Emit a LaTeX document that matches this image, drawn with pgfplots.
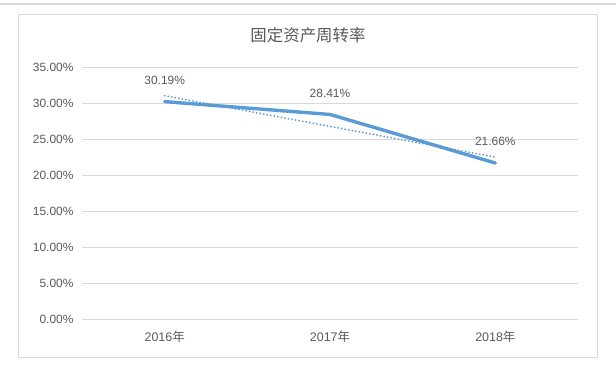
\documentclass[border=0pt]{standalone}
\usepackage{pgfplots}
\pgfplotsset{compat=1.18}
\usepackage{fontspec}
\setmainfont{Liberation Sans}
\newfontfamily\cjk{Noto Sans CJK SC}
\definecolor{linec}{HTML}{5B9BD5}
\definecolor{gridc}{HTML}{D9D9D9}
\definecolor{txtc}{HTML}{595959}
\begin{document}
\begin{tikzpicture}
\begin{axis}[
  name=ax,
  scale only axis, width=496bp, height=252bp,
  xmin=-0.5, xmax=2.5, ymin=0, ymax=35,
  axis line style={draw=none},
  tick style={draw=none},
  ymajorgrids, grid style={gridc, line width=0.8bp},
  ytick={0,5,10,15,20,25,30,35},
  yticklabel={\pgfmathprintnumber[fixed,fixed zerofill,precision=2]{\tick}\%},
  xtick={0,1,2},
  xticklabels={2016{\cjk 年},2017{\cjk 年},2018{\cjk 年}},
  /pgf/number format/assume math mode=true,
  ticklabel style={txtc, font=\fontsize{12}{14}\selectfont},
  xticklabel style={font=\fontsize{12.5}{14}\selectfont},
  yticklabel style={xshift=-5bp},
  xticklabel style={yshift=-8bp},
  clip=false,
]
\addplot[linec, line width=3.4bp, line join=round, line cap=round,
  nodes near coords, point meta=explicit symbolic,
  every node near coord/.append style={txtc, font=\fontsize{12}{14}\selectfont, anchor=south, yshift=12bp}]
  coordinates {(0,30.19) [30.19\%] (1,28.41) [28.41\%] (2,21.66) [21.66\%]};
\addplot[linec, line width=2bp, line cap=round, dash pattern=on 0bp off 3.6bp]
  coordinates {(0,31.018) (1,26.753) (2,22.488)};
\end{axis}
\draw[gridc, line width=1.5bp] ([xshift=-82bp,yshift=63bp]ax.north west) -- ([xshift=38bp,yshift=63bp]ax.north east);
\draw[gridc, line width=0.8bp] ([xshift=-63.5bp,yshift=-38bp]ax.south west) rectangle ([xshift=19bp,yshift=53bp]ax.north east);
\node[txtc, font=\cjk\fontsize{16.5}{19}\selectfont] at ([xshift=226bp,yshift=32bp]ax.north west) {固定资产周转率};
\pgfresetboundingbox
\path[use as bounding box] ([xshift=-82bp,yshift=-46bp]ax.south west) rectangle ([xshift=38bp,yshift=67bp]ax.north east);
\end{tikzpicture}
\end{document}
